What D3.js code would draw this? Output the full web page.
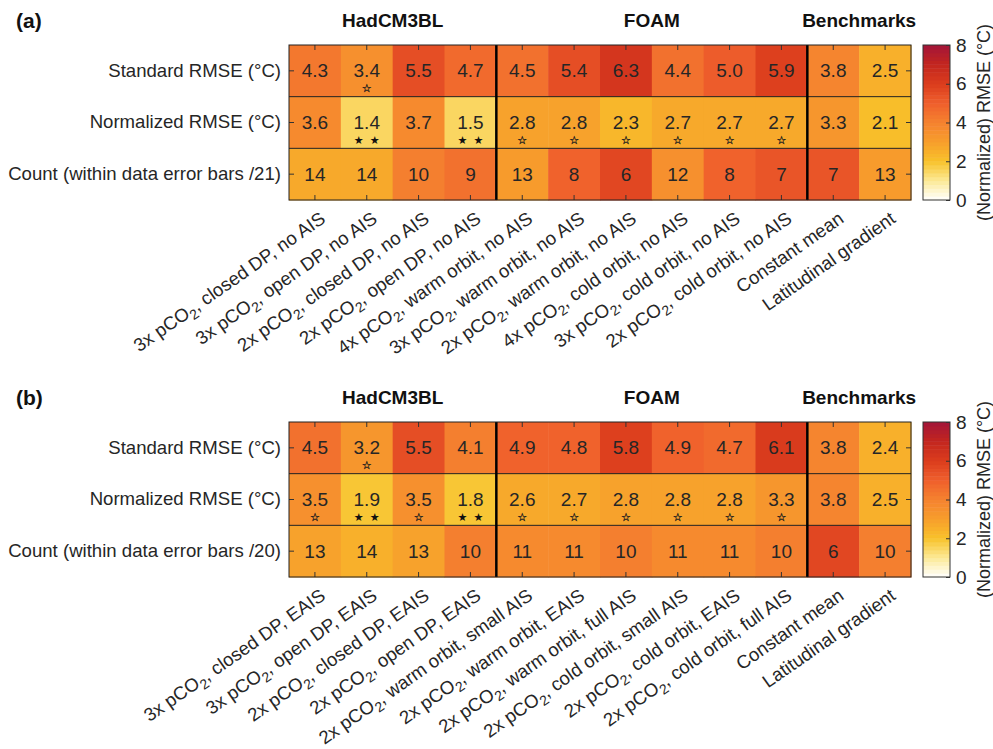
<!DOCTYPE html>
<html>
<head>
<meta charset="utf-8">
<script src="https://cdn.jsdelivr.net/npm/d3@7"></script>
<style>
  body { margin: 0; background: #fff; }
  svg { font-family: "Liberation Sans", Arial, sans-serif; }
</style>
</head>
<body>
<svg id="chart" width="993" height="749"></svg>
<script>
// data
const rowLabelsA = ["Standard RMSE (°C)", "Normalized RMSE (°C)", "Count (within data error bars /21)"]
const rowLabelsB = ["Standard RMSE (°C)", "Normalized RMSE (°C)", "Count (within data error bars /20)"]

// column labels: [prefix, suffix] around the subscript 2 of pCO2 (null = plain label)
const colsA = [
    ["3x pCO", ", closed DP, no AIS"], ["3x pCO", ", open DP, no AIS"],
    ["2x pCO", ", closed DP, no AIS"], ["2x pCO", ", open DP, no AIS"],
    ["4x pCO", ", warm orbit, no AIS"], ["3x pCO", ", warm orbit, no AIS"],
    ["2x pCO", ", warm orbit, no AIS"], ["4x pCO", ", cold orbit, no AIS"],
    ["3x pCO", ", cold orbit, no AIS"], ["2x pCO", ", cold orbit, no AIS"],
    ["Constant mean", null], ["Latitudinal gradient", null]
]
const colsB = [
    ["3x pCO", ", closed DP, EAIS"], ["3x pCO", ", open DP, EAIS"],
    ["2x pCO", ", closed DP, EAIS"], ["2x pCO", ", open DP, EAIS"],
    ["2x pCO", ", warm orbit, small AIS"], ["2x pCO", ", warm orbit, EAIS"],
    ["2x pCO", ", warm orbit, full AIS"], ["2x pCO", ", cold orbit, small AIS"],
    ["2x pCO", ", cold orbit, EAIS"], ["2x pCO", ", cold orbit, full AIS"],
    ["Constant mean", null], ["Latitudinal gradient", null]
]

const standardA = [4.3, 3.4, 5.5, 4.7, 4.5, 5.4, 6.3, 4.4, 5.0, 5.9, 3.8, 2.5]
const normalizedA = [3.6, 1.4, 3.7, 1.5, 2.8, 2.8, 2.3, 2.7, 2.7, 2.7, 3.3, 2.1]
const countA = [14, 14, 10, 9, 13, 8, 6, 12, 8, 7, 7, 13]
const totalA = 21
// "o" = open star, "ff" = two filled stars
const starsStdA = ["", "o", "", "", "", "", "", "", "", "", "", ""]
const starsNormA = ["", "ff", "", "ff", "o", "o", "o", "o", "o", "o", "", ""]

const standardB = [4.5, 3.2, 5.5, 4.1, 4.9, 4.8, 5.8, 4.9, 4.7, 6.1, 3.8, 2.4]
const normalizedB = [3.5, 1.9, 3.5, 1.8, 2.6, 2.7, 2.8, 2.8, 2.8, 3.3, 3.8, 2.5]
const countB = [13, 14, 13, 10, 11, 11, 10, 11, 11, 10, 6, 10]
const totalB = 20
const starsStdB = ["", "o", "", "", "", "", "", "", "", "", "", ""]
const starsNormB = ["o", "ff", "o", "ff", "o", "o", "o", "o", "o", "o", "", ""]

const groups = [
    {name: "HadCM3BL", from: 0, to: 3},
    {name: "FOAM", from: 4, to: 9},
    {name: "Benchmarks", from: 10, to: 11},
]
const colorTicks = [0, 2, 4, 6, 8]

// colour map (white -> yellow -> orange -> red)
const cmap = d3.scaleLinear()
    .domain([0, 1, 2, 3, 4, 5, 6, 7, 8])
    .range(["#ffffff", "#fcea98", "#f8c22a", "#f79e2c", "#f5822f", "#ef5f2c", "#db3d1d", "#c3261f", "#a31538"])
    .interpolate(d3.interpolateRgb)
    .clamp(true)
const nLevels = 40
const quant = v => Math.min(nLevels - 1, Math.floor(v / 8 * nLevels))
const colorOf = v => cmap((quant(v) + 0.5) * 8 / nLevels)

const svg = d3.select("#chart")

const xScale = d3.scaleBand()
    .domain(d3.range(12))
    .range([289, 911])

const drawPanel = (p) => {
    const yScale = d3.scaleBand()
        .domain(d3.range(3))
        .range([p.top, p.top + 155])
    const g = svg.append("g")

    const rows = [
        p.standard.map((v, i) => ({r: 0, c: i, v: v, txt: v.toFixed(1), star: p.starsStd[i]})),
        p.normalized.map((v, i) => ({r: 1, c: i, v: v, txt: v.toFixed(1), star: p.starsNorm[i]})),
        p.count.map((v, i) => ({r: 2, c: i, v: 8 * (p.total - v) / p.total, txt: String(v), star: ""})),
    ].flat()

    g.selectAll("rect.cell")
        .data(rows)
        .join("rect")
        .attr("class", "cell")
        .attr("x", d => xScale(d.c))
        .attr("y", d => yScale(d.r))
        .attr("width", xScale.bandwidth() + 0.5)
        .attr("height", yScale.bandwidth() + 0.5)
        .attr("fill", d => colorOf(d.v))

    g.selectAll("text.val")
        .data(rows)
        .join("text")
        .attr("class", "val")
        .attr("x", d => xScale(d.c) + xScale.bandwidth() / 2)
        .attr("y", d => yScale(d.r) + yScale.bandwidth() / 2)
        .attr("dy", "0.35em")
        .attr("text-anchor", "middle")
        .attr("font-size", 19)
        .attr("fill", "#262626")
        .text(d => d.txt)

    // stars: one open star, or two filled ones side by side
    const starData = rows.filter(d => d.star).flatMap(d =>
        d.star === "o" ? [{d: d, dx: 0, ch: "☆"}] : [{d: d, dx: -8, ch: "★"}, {d: d, dx: 8, ch: "★"}])
    g.selectAll("text.star")
        .data(starData)
        .join("text")
        .attr("class", "star")
        .attr("x", s => xScale(s.d.c) + xScale.bandwidth() / 2 + s.dx)
        .attr("y", s => yScale(s.d.r) + yScale.bandwidth() / 2 + 21)
        .attr("text-anchor", "middle")
        .attr("font-family", "DejaVu Sans")
        .attr("font-size", 11)
        .attr("fill", "#111")
        .attr("stroke", s => s.ch === "☆" ? "#222" : "none")
        .attr("stroke-width", 0.3)
        .text(s => s.ch)

    // row separators
    g.selectAll("line.sep")
        .data([1, 2])
        .join("line")
        .attr("x1", xScale.range()[0])
        .attr("x2", xScale.range()[1])
        .attr("y1", d => yScale(d))
        .attr("y2", d => yScale(d))
        .attr("stroke", "#222")
        .attr("stroke-width", 1)

    // group dividers
    g.selectAll("line.div")
        .data([4, 10])
        .join("line")
        .attr("x1", d => xScale(d))
        .attr("x2", d => xScale(d))
        .attr("y1", yScale.range()[0])
        .attr("y2", yScale.range()[1])
        .attr("stroke", "#000")
        .attr("stroke-width", 2.5)

    // axes (inward ticks)
    const xb = g.append("g")
        .attr("transform", `translate(0,${yScale.range()[1]})`)
        .call(d3.axisBottom(xScale).tickSizeInner(-5).tickSizeOuter(0).tickFormat(""))
    const xt = g.append("g")
        .attr("transform", `translate(0,${yScale.range()[0]})`)
        .call(d3.axisTop(xScale).tickSizeInner(-5).tickSizeOuter(0).tickFormat(""))
    const yl = g.append("g")
        .attr("transform", `translate(${xScale.range()[0]},0)`)
        .call(d3.axisLeft(yScale).tickSizeInner(-5).tickSizeOuter(0).tickPadding(8).tickFormat(i => p.rowLabels[i]))
    const yr = g.append("g")
        .attr("transform", `translate(${xScale.range()[1]},0)`)
        .call(d3.axisRight(yScale).tickSizeInner(-5).tickSizeOuter(0).tickFormat(""))
    ;[xb, xt, yl, yr].forEach(a => {
        a.select(".domain").remove()
        a.selectAll(".tick line").attr("stroke", "#333")
    })
    yl.selectAll("text")
        .attr("font-size", 18.6)
        .attr("font-family", "Liberation Sans, Arial, sans-serif")
        .attr("fill", "#262626")

    g.append("rect")
        .attr("x", xScale.range()[0])
        .attr("y", yScale.range()[0])
        .attr("width", xScale.range()[1] - xScale.range()[0])
        .attr("height", yScale.range()[1] - yScale.range()[0])
        .attr("fill", "none")
        .attr("stroke", "#222")
        .attr("stroke-width", 1)

    // rotated column labels
    const bottom = yScale.range()[1]
    const labels = g.selectAll("text.collab")
        .data(p.cols)
        .join("text")
        .attr("class", "collab")
        .attr("transform", (d, i) => `translate(${xScale(i) + xScale.bandwidth() / 2 + 8},${bottom + 16}) rotate(-35)`)
        .attr("text-anchor", "end")
        .attr("dy", "0.35em")
        .attr("font-size", 18.6)
        .attr("fill", "#262626")
    labels.each(function(d) {
        const t = d3.select(this)
        if (d[1] === null) {
            t.text(d[0])
        } else {
            t.append("tspan").text(d[0])
            t.append("tspan").attr("dy", 5).attr("font-size", 14).text("2")
            t.append("tspan").attr("dy", -5).text(d[1])
        }
    })

    // group titles
    g.selectAll("text.grp")
        .data(groups)
        .join("text")
        .attr("x", d => (xScale(d.from) + xScale(d.to) + xScale.bandwidth()) / 2)
        .attr("y", p.top - 25)
        .attr("dy", "0.35em")
        .attr("text-anchor", "middle")
        .attr("font-size", 19)
        .attr("font-weight", "bold")
        .attr("fill", "#111")
        .text(d => d.name)

    g.append("text")
        .attr("x", 16)
        .attr("y", p.top - 24)
        .attr("dy", "0.35em")
        .attr("font-size", 21)
        .attr("font-weight", "bold")
        .attr("fill", "#111")
        .text(p.tag)

    // colour bar
    const cScale = d3.scaleLinear()
        .domain([0, 8])
        .range([yScale.range()[1], yScale.range()[0]])
    const cb = g.append("g")
    cb.selectAll("rect")
        .data(d3.range(nLevels))
        .join("rect")
        .attr("x", 923)
        .attr("width", 27)
        .attr("y", k => cScale((k + 1) * 8 / nLevels))
        .attr("height", k => cScale(k * 8 / nLevels) - cScale((k + 1) * 8 / nLevels) + 0.5)
        .attr("fill", k => cmap((k + 0.5) * 8 / nLevels))
    cb.append("rect")
        .attr("x", 923)
        .attr("y", cScale(8))
        .attr("width", 27)
        .attr("height", cScale(0) - cScale(8))
        .attr("fill", "none")
        .attr("stroke", "#333")
    const cAxis = cb.append("g")
        .attr("transform", "translate(950,0)")
        .call(d3.axisRight(cScale).tickValues(colorTicks).tickSizeInner(-4).tickSizeOuter(0).tickPadding(6))
    cAxis.select(".domain").remove()
    cAxis.selectAll(".tick line").attr("stroke", "#333")
    cAxis.selectAll("text")
        .attr("font-size", 19)
        .attr("font-family", "Liberation Sans, Arial, sans-serif")
        .attr("fill", "#262626")
    cb.append("text")
        .attr("transform", `translate(984,${(cScale(0) + cScale(8)) / 2}) rotate(-90)`)
        .attr("text-anchor", "middle")
        .attr("dy", "0.35em")
        .attr("font-size", 18)
        .attr("fill", "#262626")
        .text("(Normalized) RMSE (°C)")
}

drawPanel({
    tag: "(a)", top: 45, rowLabels: rowLabelsA, cols: colsA,
    standard: standardA, normalized: normalizedA, count: countA, total: totalA,
    starsStd: starsStdA, starsNorm: starsNormA
})
drawPanel({
    tag: "(b)", top: 422, rowLabels: rowLabelsB, cols: colsB,
    standard: standardB, normalized: normalizedB, count: countB, total: totalB,
    starsStd: starsStdB, starsNorm: starsNormB
})
</script>
</body>
</html>
